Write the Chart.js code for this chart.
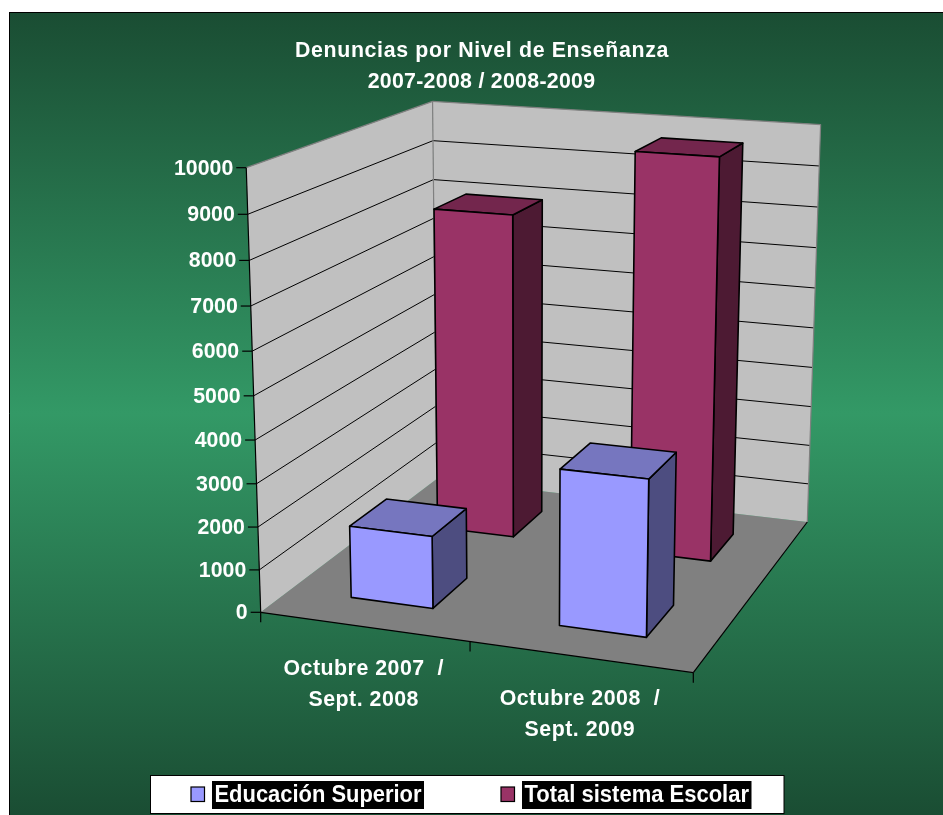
<!DOCTYPE html>
<html><head><meta charset="utf-8">
<style>html,body{margin:0;padding:0;background:#fff}canvas{display:block}</style>
<script src="https://cdn.jsdelivr.net/npm/chart.js@4"></script>
</head><body><canvas id="c" width="943" height="815"></canvas>
<script>
const titleLines = ['Denuncias por Nivel de Enseñanza', '2007-2008 / 2008-2009'];
const categories = [['Octubre 2007  /', 'Sept. 2008'], ['Octubre 2008  /', 'Sept. 2009']];
const educacionSuperior = [1700, 3600];
const totalSistemaEscolar = [8000, 9700];
const seriesNames = ['Educación Superior', 'Total sistema Escolar'];

const FONT = '"Liberation Sans", Arial, sans-serif';
const floorQ = [[260.7,612.3],[693.3,672.7],[807.3,522],[436.7,479]];
const topQ = [[0,0,246.5,166],[0,1,432,103.3],[1,1,821,124]];
function makeProjection(){
  const [p0,p1,p2,p3]=floorQ;
  const sx=p0[0]-p1[0]+p2[0]-p3[0], sy=p0[1]-p1[1]+p2[1]-p3[1];
  const dx1=p1[0]-p2[0], dx2=p3[0]-p2[0], dy1=p1[1]-p2[1], dy2=p3[1]-p2[1];
  const den=dx1*dy2-dx2*dy1;
  const g=(sx*dy2-dx2*sy)/den, h=(dx1*sy-sx*dy1)/den;
  const a=p1[0]-p0[0]+g*p1[0], b=p3[0]-p0[0]+h*p3[0], c=p0[0];
  const d=p1[1]-p0[1]+g*p1[1], e=p3[1]-p0[1]+h*p3[1], f=p0[1];
  let n=0,Sx=0,Sy=0,Sq=0,Sr1=0,Sr2=0,Sxr=0;
  for(const [u,v,x,y] of topQ){
    const Xb=a*u+b*v+c,Yb=d*u+e*v+f,Zb=g*u+h*v+1;
    const r1=x*Zb-Xb,r2=y*Zb-Yb;
    n++;Sx+=x;Sy+=y;Sq+=x*x+y*y;Sr1+=r1;Sr2+=r2;Sxr+=x*r1+y*r2;
  }
  const c3=(-Sxr+(Sx*Sr1+Sy*Sr2)/n)/(Sq-(Sx*Sx+Sy*Sy)/n);
  const c1=(Sr1+Sx*c3)/n,c2=(Sr2+Sy*c3)/n;
  return (u,v,w)=>{const Z=g*u+h*v+c3*w+1;return [(a*u+b*v+c1*w+c)/Z,(d*u+e*v+c2*w+f)/Z];};
}
const P=makeProjection();
function poly(ctx,pts,fill,stroke,lw){
  ctx.beginPath();pts.forEach((p,i)=>i?ctx.lineTo(p[0],p[1]):ctx.moveTo(p[0],p[1]));ctx.closePath();
  if(fill){ctx.fillStyle=fill;ctx.fill();}
  if(stroke){ctx.strokeStyle=stroke;ctx.lineWidth=lw||1;ctx.stroke();}
}
function line(ctx,a,b,col,lw){ctx.beginPath();ctx.moveTo(a[0],a[1]);ctx.lineTo(b[0],b[1]);ctx.strokeStyle=col;ctx.lineWidth=lw||1;ctx.stroke();}
const depthSlots=[[0.15,0.35],[0.65,0.85]];
const shades={
  '#9999FF':['#9999FF','#7676BF','#4D4D80'],
  '#993366':['#993366','#73264D','#4D1A33']
};
const scene={
  id:'scene',
  beforeDraw(chart){
    const ctx=chart.ctx;
    ctx.save();
    ctx.fillStyle='#fff';ctx.fillRect(0,0,943,815);
    const gr=ctx.createLinearGradient(0,12,0,815);
    gr.addColorStop(0,'#1A4D33');gr.addColorStop(0.5,'#339966');gr.addColorStop(1,'#1A4D33');
    ctx.fillStyle=gr;ctx.fillRect(9,12,934,803);
    line(ctx,[9.5,12],[9.5,815],'#000');line(ctx,[9,12.5],[943,12.5],'#000');
    ctx.fillStyle='#fff';ctx.font='bold 21.33px '+FONT;ctx.textAlign='center';ctx.textBaseline='middle';
    ctx.letterSpacing='0.65px';ctx.fillText(titleLines[0],482,51);
    ctx.letterSpacing='0.28px';ctx.fillText(titleLines[1],481.5,82);
    ctx.letterSpacing='0px';
    ctx.restore();
  },
  beforeDatasetsDraw(chart){
    const ctx=chart.ctx,y=chart.scales.y,x=chart.scales.x,ca=chart.chartArea;
    const frac=v=>(y.getPixelForValue(0)-y.getPixelForValue(v))/ca.height;
    ctx.save();
    ctx.lineJoin='round';
    poly(ctx,[P(0,0,0),P(1,0,0),P(1,1,0),P(0,1,0)],'#808080');
    poly(ctx,[P(0,0,0),P(0,1,0),P(0,1,1),P(0,0,1)],'#C0C0C0');
    poly(ctx,[P(0,1,0),P(1,1,0),P(1,1,1),P(0,1,1)],'#C0C0C0');
    y.ticks.forEach(t=>{
      const w=frac(t.value);
      if(w>0&&w<1){
        line(ctx,P(0,0,w),P(0,1,w),'#000');
        line(ctx,P(0,1,w),P(1,1,w),'#000');
      }
    });
    const gray='#808080';
    line(ctx,P(0,0,1),P(0,1,1),gray,1.2);line(ctx,P(0,1,1),P(1,1,1),gray,1.2);
    line(ctx,P(1,1,1),P(1,1,0),gray,1.2);line(ctx,P(0,1,0),P(0,1,1),gray,1.2);
    line(ctx,P(0,0,0),P(0,0,1),'#000',1.2);
    line(ctx,P(0,0,0),P(1,0,0),'#000',1.2);
    line(ctx,P(1,0,0),P(1,1,0),'#000',1.2);
    ctx.fillStyle='#fff';ctx.font='bold 21.33px '+FONT;ctx.textBaseline='middle';
    y.ticks.forEach(t=>{
      const p=P(0,0,frac(t.value));
      line(ctx,[p[0]-10,p[1]],p,'#000',1.2);
      ctx.fillStyle='#fff';ctx.textAlign='right';ctx.fillText(t.label,p[0]-13,p[1]+1);
    });
    ctx.textAlign='center';
    [0,0.5,1].forEach(u=>{const p=P(u,0,0);line(ctx,p,[p[0],p[1]+10],'#000',1.2);});
    ctx.letterSpacing='0.5px';
    categories.forEach((lines,i)=>{
      const u=(x.getPixelForValue(i)-ca.left)/ca.width;
      const p=P(u,0,0);
      lines.forEach((s,j)=>{ctx.fillStyle='#fff';ctx.fillText(s,p[0],p[1]+42.5+j*30.5);});
    });
    ctx.letterSpacing='0px';
    [1,0].forEach(di=>{
      const meta=chart.getDatasetMeta(di),ds=chart.data.datasets[di];
      const sh=shades[ds.backgroundColor];
      const [v0,v1]=depthSlots[di];
      meta.data.forEach(el=>{
        const u0=(el.x-el.width/2-ca.left)/ca.width,u1=(el.x+el.width/2-ca.left)/ca.width;
        const w=(el.base-el.y)/ca.height;
        poly(ctx,[P(u1,v0,0),P(u1,v1,0),P(u1,v1,w),P(u1,v0,w)],sh[2],'#000',1.6);
        poly(ctx,[P(u0,v0,w),P(u1,v0,w),P(u1,v1,w),P(u0,v1,w)],sh[1],'#000',1.6);
        poly(ctx,[P(u0,v0,0),P(u1,v0,0),P(u1,v0,w),P(u0,v0,w)],sh[0],'#000',1.6);
      });
    });
    ctx.restore();
  },
  beforeDatasetDraw(){return false;},
  afterDraw(chart){
    const ctx=chart.ctx;
    ctx.save();
    ctx.fillStyle='#fff';ctx.fillRect(150.5,775.5,633.5,38);
    ctx.strokeStyle='#000';ctx.lineWidth=1;ctx.strokeRect(150.5,775.5,633.5,38);
    const items=[[191,212,212,chart.data.datasets[0]],[501,522,229.5,chart.data.datasets[1]]];
    ctx.textBaseline='middle';ctx.textAlign='center';ctx.font='bold 23px '+FONT;
    items.forEach(([sx,bx,bw,ds])=>{
      ctx.fillStyle=ds.backgroundColor;ctx.fillRect(sx,787,13.5,14.5);
      ctx.strokeStyle='#000';ctx.lineWidth=1.2;ctx.strokeRect(sx,787,13.5,14.5);
      ctx.fillStyle='#000';ctx.fillRect(bx,781,bw,28);
      ctx.fillStyle='#fff';ctx.fillText(ds.label,bx+bw/2,795.5,bw-5);
    });
    ctx.restore();
  }
};
new Chart(document.getElementById('c'),{
  type:'bar',
  data:{labels:categories,datasets:[
    {label:seriesNames[0],data:educacionSuperior,backgroundColor:'#9999FF',borderColor:'#000'},
    {label:seriesNames[1],data:totalSistemaEscolar,backgroundColor:'#993366',borderColor:'#000'}
  ]},
  options:{
    responsive:false,animation:false,
    layout:{padding:0},
    categoryPercentage:1,barPercentage:0.4,
    plugins:{legend:{display:false},tooltip:{enabled:false},title:{display:false}},
    scales:{
      x:{display:false,stacked:true},
      y:{display:false,min:0,max:10000,ticks:{stepSize:1000,callback:v=>String(v)}}
    }
  },
  plugins:[scene]
});
</script></body></html>
